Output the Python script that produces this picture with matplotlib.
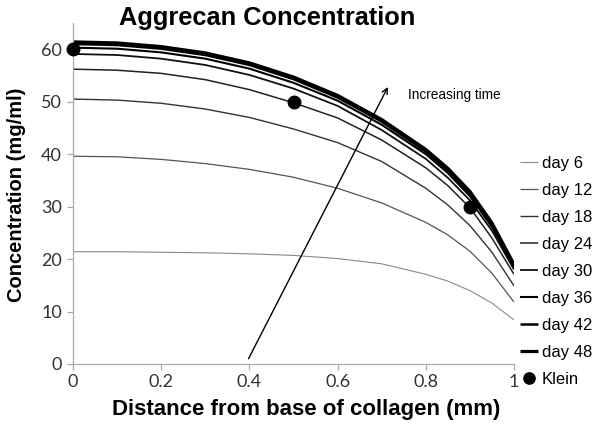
import numpy as np
import matplotlib.pyplot as plt

# distance from base of collagen (mm)
x_mm = [0, 0.1, 0.2, 0.3, 0.4, 0.5, 0.6, 0.7, 0.8, 0.85, 0.9, 0.95, 1.0]

# concentración (mg/ml)
day6 = [21.4, 21.4, 21.3, 21.2, 21.0, 20.7, 20.1, 19.1, 17.1, 15.8, 14.0, 11.6, 8.4]
day12 = [39.6, 39.5, 39.0, 38.2, 37.1, 35.6, 33.5, 30.7, 27.0, 24.6, 21.5, 17.3, 11.8]
day18 = [50.5, 50.3, 49.7, 48.6, 47.0, 44.8, 42.2, 38.6, 33.5, 30.3, 26.4, 21.3, 14.9]
day24 = [56.2, 56.0, 55.4, 54.2, 52.3, 49.8, 46.9, 42.7, 37.4, 34.0, 29.8, 24.0, 17.1]
day30 = [59.1, 58.9, 58.2, 57.0, 55.1, 52.5, 49.2, 44.6, 39.1, 35.5, 31.2, 25.4, 18.0]
day36 = [60.3, 60.1, 59.4, 58.2, 56.3, 53.6, 50.2, 45.6, 40.0, 36.4, 32.0, 26.1, 18.4]
day42 = [61.0, 60.8, 60.1, 58.9, 57.0, 54.3, 50.8, 46.2, 40.5, 36.9, 32.5, 26.5, 18.7]
day48 = [61.4, 61.2, 60.5, 59.3, 57.4, 54.7, 51.2, 46.6, 40.9, 37.3, 32.9, 26.9, 19.0]

series_labels = ["day 6", "day 12", "day 18", "day 24", "day 30", "day 36", "day 42", "day 48"]
series_vals = [day6, day12, day18, day24, day30, day36, day42, day48]

klein_x = [0, 0.5, 0.9]
klein_y = [60, 50, 30]

x_ticks = [0, 0.2, 0.4, 0.6, 0.8, 1.0]
x_tick_labels = ["0", "0.2", "0.4", "0.6", "0.8", "1"]
y_ticks = [0, 10, 20, 30, 40, 50, 60]

colores = ["#8a8a8a", "#555555", "#333333", "#222222", "#111111", "#000000", "#000000", "#000000"]
grosores = [0.8, 0.9, 1.0, 1.1, 1.3, 1.5, 1.8, 2.3]

fig = plt.figure(figsize=(6, 4.29), dpi=100)
ax = fig.add_axes([73/600, 1-364/429, 441/600, 341/429])

for vals, lab, c, lw in zip(series_vals, series_labels, colores, grosores):
    ax.plot(x_mm, vals, color=c, lw=lw, label=lab, solid_capstyle='butt')

ax.plot(klein_x, klein_y, 'o', color='black', markersize=9, label="Klein",
        linestyle='none', clip_on=False, zorder=5)

# flecha "Increasing time"
ax.annotate("", xy=(0.714, 52.8), xytext=(0.398, 1.0),
            arrowprops=dict(arrowstyle='->', lw=1.0, color='black',
                            shrinkA=0, shrinkB=0))
ax.text(0.76, 51.3, "Increasing time", fontsize=9.8, family="Liberation Sans",
        ha='left', va='center')

ax.set_xlim(0, 1)
ax.set_ylim(0, 65)
ax.set_xticks(x_ticks)
ax.set_xticklabels(x_tick_labels)
ax.set_yticks(y_ticks)
for lbl in ax.get_xticklabels() + ax.get_yticklabels():
    lbl.set_family("Lato")
    lbl.set_fontsize(13)
    lbl.set_color("#333333")

for s in ['top', 'right']:
    ax.spines[s].set_visible(False)
for s in ['left', 'bottom']:
    ax.spines[s].set_color('#aaaaaa')
    ax.spines[s].set_linewidth(0.9)
ax.tick_params(direction='out', length=4, width=0.9, color='#aaaaaa')
ax.tick_params(axis='y', pad=4)
ax.tick_params(axis='x', pad=3)

leg = ax.legend(loc='upper left', bbox_to_anchor=(520/600, 1-156/429),
                bbox_transform=fig.transFigure, frameon=False,
                prop={'family': 'Liberation Sans', 'size': 12},
                handlelength=1.05, handletextpad=0.25, labelspacing=0.72,
                borderaxespad=0, borderpad=0, markerscale=0.9)

fig.text(267/600, 1-18/429, "Aggrecan Concentration", fontsize=18.3, fontweight='bold',
         family="Liberation Sans", ha='center', va='center')
fig.text(17/600, 1-195/429, "Concentration (mg/ml)", fontsize=14.5, fontweight='bold',
         family="Liberation Sans", ha='center', va='center', rotation=90)
fig.text(306/600, 1-410/429, "Distance from base of collagen (mm)", fontsize=16,
         fontweight='bold', family="Liberation Sans", ha='center', va='center')

fig.savefig("out.png", dpi=100)
